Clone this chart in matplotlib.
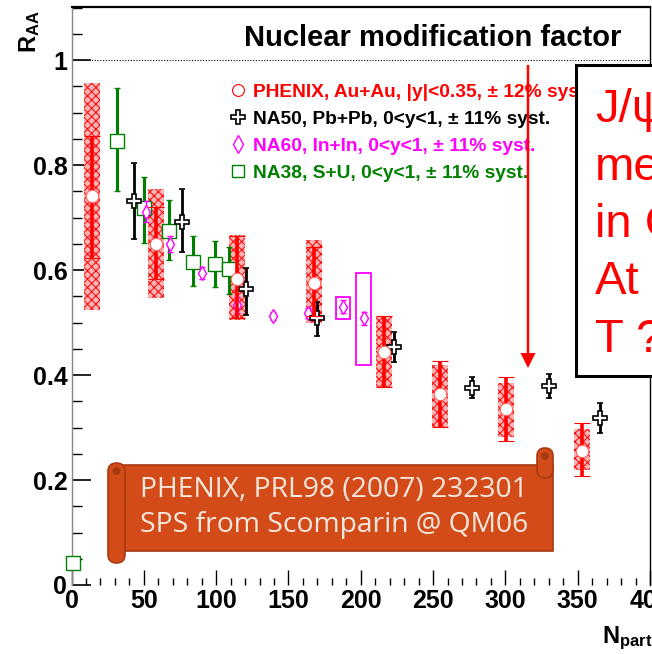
import numpy as np
import matplotlib
matplotlib.use("Agg")
import matplotlib.pyplot as plt
from matplotlib.lines import Line2D
from matplotlib.patches import Rectangle, FancyBboxPatch, Circle, FancyArrow
from matplotlib.ticker import MultipleLocator, FixedLocator, FixedFormatter

plt.rcParams["font.family"] = ["Liberation Sans", "DejaVu Sans"]
plt.rcParams["mathtext.fontset"] = "custom"
plt.rcParams["mathtext.rm"] = "Liberation Sans"
plt.rcParams["mathtext.bf"] = "Liberation Sans:bold"
plt.rcParams["hatch.linewidth"] = 0.7

# -------------------------
# data: R_AA vs N_part
# -------------------------

# PHENIX Au+Au |y|<0.35
phx_npart = [14.2, 58.4, 114.5, 167.5, 216.0, 255.0, 300.5, 352.7]
phx_raa = [0.741, 0.650, 0.583, 0.575, 0.444, 0.364, 0.335, 0.255]
phx_stat_hi = [0.855, 0.720, 0.665, 0.644, 0.512, 0.427, 0.396, 0.309]
phx_stat_lo = [0.623, 0.583, 0.509, 0.512, 0.377, 0.301, 0.274, 0.208]
phx_syst_hi = [0.956, 0.754, 0.667, 0.657, 0.512, 0.419, 0.385, 0.297]
phx_syst_lo = [0.524, 0.547, 0.505, 0.499, 0.377, 0.301, 0.282, 0.219]

# NA50 Pb+Pb
na50_npart = [43.3, 76.3, 120.5, 170.0, 223.0, 277.0, 330.0, 365.6]
na50_raa = [0.732, 0.692, 0.563, 0.508, 0.453, 0.375, 0.379, 0.318]
na50_hi = [0.804, 0.754, 0.604, 0.539, 0.482, 0.396, 0.402, 0.347]
na50_lo = [0.659, 0.634, 0.514, 0.474, 0.425, 0.356, 0.356, 0.289]

# NA60 In+In
na60_npart = [51.4, 68.0, 90.0, 114.5, 139.5, 163.8, 187.8, 202.0]
na60_raa = [0.711, 0.650, 0.594, 0.533, 0.512, 0.518, 0.530, 0.508]
na60_err = [0.020, 0.015, 0.012, 0.015, 0.008, 0.010, 0.012, 0.012]
na60_box_npart = [187.8, 202.0]
na60_box_hi = [0.549, 0.594]
na60_box_lo = [0.507, 0.419]

# NA38 S+U
na38_npart = [1.0, 31.4, 50.2, 67.4, 84.3, 99.2, 109.2]
na38_raa = [0.042, 0.846, 0.718, 0.674, 0.616, 0.612, 0.601]
na38_hi = [0.042, 0.946, 0.777, 0.733, 0.665, 0.655, 0.644]
na38_lo = [0.042, 0.750, 0.651, 0.619, 0.570, 0.568, 0.554]

legend_labels = [
    "PHENIX, Au+Au, |y|<0.35, \u00b1 12% syst.",
    "NA50, Pb+Pb, 0<y<1, \u00b1 11% syst.",
    "NA60, In+In, 0<y<1, \u00b1 11% syst.",
    "NA38, S+U, 0<y<1, \u00b1 11% syst.",
]
legend_colors = ["red", "black", "magenta", "green"]

x_ticks = [0, 50, 100, 150, 200, 250, 300, 350, 400]
y_ticks = [0, 0.2, 0.4, 0.6, 0.8, 1.0]
y_ticklabels = ["0", "0.2", "0.4", "0.6", "0.8", "1"]

note_lines = ["J/\u03c8", "me", "in C", "At", "T ?"]
banner_lines = ["PHENIX, PRL98 (2007) 232301", "SPS from Scomparin @ QM06"]

W, H = 652, 654

# -------------------------
# figure and axes
# -------------------------

fig = plt.figure(figsize=(W / 100, H / 100), dpi=100)
ax = fig.add_axes([71.5 / W, 1 - 585 / H, (650 - 71.5) / W, (585 - 7) / H])
ax.set_xlim(0, 400)
ax.set_ylim(0, 1.101)

# PHENIX systematic boxes
phx_hi = np.array(phx_syst_hi)
phx_lo = np.array(phx_syst_lo)
ax.bar(phx_npart, phx_hi - phx_lo, bottom=phx_lo, width=11,
       facecolor="#ffb4b4", edgecolor="red", hatch="xxxx", linewidth=0, zorder=2)

# NA60 systematic boxes
for xb, hi, lo in zip(na60_box_npart, na60_box_hi, na60_box_lo):
    ax.add_patch(Rectangle((xb - 5, lo), 10, hi - lo, fill=False,
                           edgecolor="magenta", linewidth=1.3, zorder=3))

# NA38
r = np.array(na38_raa)
ax.errorbar(na38_npart, na38_raa,
            yerr=[r - np.array(na38_lo), np.array(na38_hi) - r],
            fmt="s", ms=9.5, mfc="white", mec="green", mew=1.0,
            ecolor="green", elinewidth=2.2, capsize=2.5, capthick=2.2,
            zorder=4, clip_on=False)

# NA60
ax.errorbar(na60_npart, na60_raa, yerr=na60_err,
            fmt="d", ms=7.5, mfc="white", mec="magenta", mew=1.0,
            ecolor="magenta", elinewidth=1.0, capsize=2, zorder=5)

# NA50
r = np.array(na50_raa)
ax.errorbar(na50_npart, na50_raa,
            yerr=[r - np.array(na50_lo), np.array(na50_hi) - r],
            fmt="P", ms=10, mfc="white", mec="black", mew=1.2,
            ecolor="black", elinewidth=2.0, capsize=2.5, capthick=2.0,
            zorder=6)

# PHENIX
r = np.array(phx_raa)
ax.errorbar(phx_npart, phx_raa,
            yerr=[r - np.array(phx_stat_lo), np.array(phx_stat_hi) - r],
            fmt="o", ms=9, mfc="white", mec="#ff6060", mew=0.8,
            ecolor="red", elinewidth=2.6, capsize=5.5, capthick=2.6,
            zorder=7)

ax.axhline(1.0, color="black", linestyle=(0, (1, 1.5)), linewidth=0.8, zorder=1)

# axes styling
for side in ["top", "right"]:
    ax.spines[side].set_color("black")
ax.spines["top"].set_linewidth(1.6)
ax.spines["right"].set_linewidth(1.0)
ax.spines["left"].set_color("#888888")
ax.spines["left"].set_linewidth(1.0)
ax.spines["bottom"].set_visible(False)

ax.xaxis.set_major_locator(FixedLocator(x_ticks))
ax.xaxis.set_minor_locator(MultipleLocator(10))
ax.yaxis.set_major_locator(FixedLocator(y_ticks))
ax.yaxis.set_major_formatter(FixedFormatter(y_ticklabels))
ax.yaxis.set_minor_locator(MultipleLocator(0.05))

ax.tick_params(axis="both", which="both", direction="in", colors="black")
ax.tick_params(axis="y", which="major", length=14, width=1.2, pad=3)
ax.tick_params(axis="y", which="minor", length=7, width=1.0)
ax.tick_params(axis="x", which="major", length=11, width=1.0, pad=3)
ax.tick_params(axis="x", which="minor", length=5, width=1.0)
for lbl in ax.get_xticklabels() + ax.get_yticklabels():
    lbl.set_fontsize(18)
    lbl.set_fontweight("bold")

# legend
handles = [
    Line2D([], [], ls="none", marker="o", ms=8.5, mfc="white", mec="red", mew=0.8),
    Line2D([], [], ls="none", marker="P", ms=10, mfc="white", mec="black", mew=1.2),
    Line2D([], [], ls="none", marker="d", ms=9, mfc="white", mec="magenta", mew=1.0),
    Line2D([], [], ls="none", marker="s", ms=9, mfc="white", mec="green", mew=1.0),
]
leg = ax.legend(handles, legend_labels, loc="upper left",
                bbox_to_anchor=(230 / W, 1 - 83.5 / H), bbox_transform=fig.transFigure,
                frameon=False, borderpad=0, borderaxespad=0,
                handlelength=0.8, handletextpad=0.4, labelspacing=0.5,
                prop={"size": 13.8, "weight": "bold"})
for txt, c in zip(leg.get_texts(), legend_colors):
    txt.set_color(c)

# axis titles
fig.text(30 / W, 1 - 32 / H, r"$\mathbf{R_{AA}}$", rotation=90,
         ha="center", va="center", fontsize=17)
fig.text(602 / W, 1 - 643 / H, r"$\mathbf{N_{part}}$",
         ha="left", va="baseline", fontsize=17)

# -------------------------
# overlay in pixel coordinates
# -------------------------

ov = fig.add_axes([0, 0, 1, 1], zorder=5)
ov.set_xlim(0, W)
ov.set_ylim(H, 0)
ov.axis("off")
ov.patch.set_alpha(0)

ov.text(433, 46, "Nuclear modification factor", ha="center", va="baseline",
        fontsize=21, fontweight="bold")

# note box with arrow
ov.add_patch(FancyArrow(528, 65, 0, 303, width=2.5, head_width=15, head_length=15,
                        length_includes_head=True, color="red", linewidth=0))
ov.add_patch(Rectangle((576, 65), 110, 311, facecolor="white",
                       edgecolor="black", linewidth=2.2))
for i, line in enumerate(note_lines):
    ov.text(595, 122 + i * 57.5, line, color="red", fontsize=34,
            va="baseline", ha="left")

# banner scroll
fill_c = "#d24b18"
dark_c = "#a63b12"
ov.add_patch(Rectangle((118, 465), 435, 86, facecolor=fill_c,
                       edgecolor=dark_c, linewidth=1.2))
ov.add_patch(FancyBboxPatch((537, 448), 16, 30,
                            boxstyle="round,pad=0,rounding_size=8",
                            facecolor=fill_c, edgecolor=dark_c, linewidth=1.2))
ov.add_patch(Circle((545, 456), 4, facecolor=dark_c, edgecolor="none"))
ov.add_patch(FancyBboxPatch((108, 463), 17, 100,
                            boxstyle="round,pad=0,rounding_size=8.5",
                            facecolor=fill_c, edgecolor=dark_c, linewidth=1.2))
ov.add_patch(Circle((116.5, 471), 4, facecolor=dark_c, edgecolor="none"))
for i, line in enumerate(banner_lines):
    ov.text(140, 497 + i * 35, line, color="#f6e8df", fontsize=20.3,
            family="Open Sans", va="baseline", ha="left")

fig.savefig("out.png", dpi=100)
